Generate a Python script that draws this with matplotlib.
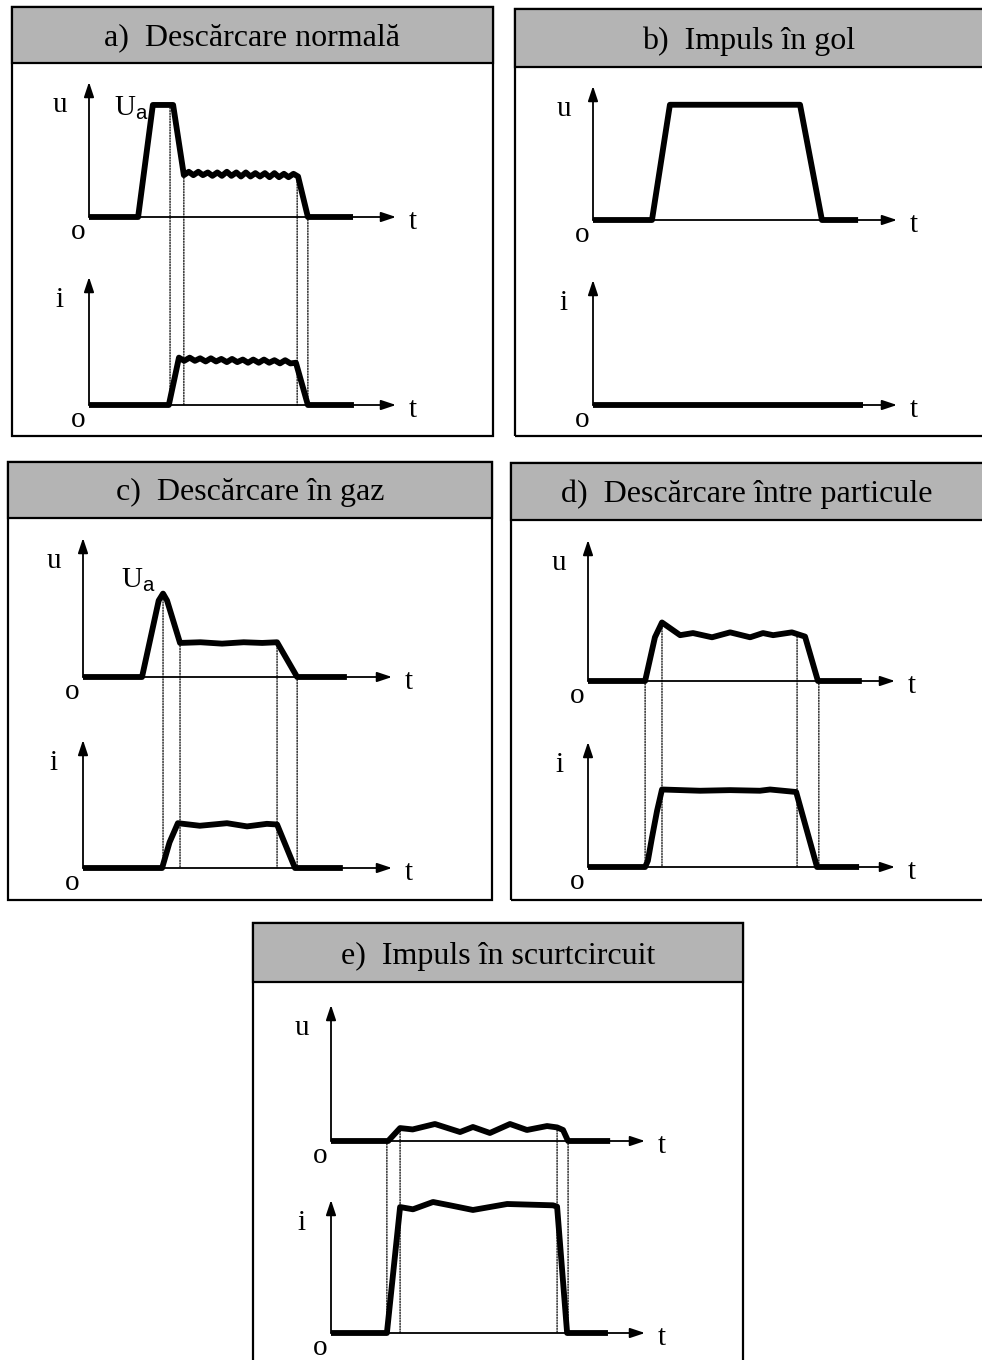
import numpy as np
import matplotlib
matplotlib.use("Agg")
import matplotlib.pyplot as plt
from matplotlib.patches import Rectangle, ConnectionPatch

plt.rcParams['font.family'] = ['Liberation Serif', 'DejaVu Serif']
plt.rcParams['mathtext.fontset'] = 'custom'
plt.rcParams['mathtext.rm'] = 'Liberation Sans'

# panel titles
titles = ["a)  Descărcare normală", "b)  Impuls în gol", "c)  Descărcare în gaz",
          "d)  Descărcare între particule", "e)  Impuls în scurtcircuit"]

# waveforms: time (0..10 along t axis), amplitude (0..1 of axis height)
a_u_t = [0, 1.6, 2.08, 2.74, 3.09,
         3.25, 3.40, 3.56, 3.71, 3.87, 4.02, 4.18, 4.33, 4.49, 4.64, 4.80, 4.95,
         5.11, 5.26, 5.42, 5.57, 5.73, 5.88, 6.04, 6.19, 6.35, 6.50, 6.66, 6.81,
         7.13, 8.6]
a_u_v = [0, 0, 0.83, 0.83, 0.31,
         0.335, 0.31, 0.335, 0.31, 0.33, 0.305, 0.33, 0.305, 0.335, 0.305, 0.33, 0.30,
         0.33, 0.30, 0.325, 0.30, 0.325, 0.295, 0.325, 0.295, 0.32, 0.295, 0.32, 0.30,
         0, 0]
a_i_t = [0, 2.6, 2.93,
         3.10, 3.28, 3.45, 3.62, 3.80, 3.97, 4.14, 4.31, 4.49, 4.66, 4.83, 5.01,
         5.18, 5.35, 5.53, 5.70, 5.87, 6.04, 6.22, 6.39, 6.56, 6.74,
         7.13, 8.63]
a_i_v = [0, 0, 0.37,
         0.345, 0.37, 0.345, 0.365, 0.34, 0.365, 0.34, 0.36, 0.335, 0.36, 0.335, 0.355,
         0.33, 0.355, 0.33, 0.355, 0.33, 0.35, 0.325, 0.35, 0.325, 0.33,
         0, 0]
a_marks = [2.64, 3.09, 6.78, 7.13]

b_u_t = [0, 1.94, 2.53, 6.81, 7.53, 8.72]
b_u_v = [0, 0, 0.86, 0.86, 0, 0]
b_i_t = [0, 8.88]
b_i_v = [0, 0]
b_marks = []

c_u_t = [0, 1.91, 2.45, 2.59, 2.72, 3.14, 3.8, 4.5, 5.2, 5.8, 6.28, 6.93, 8.54]
c_u_v = [0, 0, 0.55, 0.60, 0.55, 0.245, 0.25, 0.24, 0.25, 0.245, 0.25, 0, 0]
c_i_t = [0, 2.56, 2.8, 3.07, 3.78, 4.66, 5.31, 5.95, 6.28, 6.86, 8.41]
c_i_v = [0, 0, 0.2, 0.35, 0.33, 0.35, 0.325, 0.345, 0.34, 0, 0]
c_marks = [2.59, 3.14, 6.28, 6.93]

d_u_t = [0, 1.86, 2.18, 2.41, 3.0, 3.42, 4.04, 4.63, 5.28, 5.7, 6.03, 6.64, 7.07, 7.49, 8.92]
d_u_v = [0, 0, 0.31, 0.415, 0.325, 0.34, 0.31, 0.345, 0.31, 0.34, 0.325, 0.345, 0.315, 0, 0]
d_i_t = [0, 1.86, 1.95, 2.08, 2.25, 2.41, 3.65, 4.63, 5.6, 5.93, 6.78, 7.46, 8.83]
d_i_v = [0, 0, 0.05, 0.23, 0.45, 0.62, 0.61, 0.615, 0.61, 0.62, 0.6, 0, 0]
d_marks = [1.86, 2.41, 6.81, 7.52]

e_u_t = [0, 1.82, 2.2, 2.6, 3.31, 4.11, 4.52, 5.06, 5.7, 6.24, 6.88, 7.2, 7.39, 7.55, 8.89]
e_u_v = [0, 0, 0.095, 0.085, 0.125, 0.066, 0.103, 0.059, 0.125, 0.081, 0.11, 0.1, 0.081, 0, 0]
e_i_t = [0, 1.78, 2.2, 2.61, 3.25, 3.79, 4.52, 5.61, 7.07, 7.2, 7.52, 8.82]
e_i_v = [0, 0, 0.947, 0.93, 0.985, 0.96, 0.925, 0.97, 0.96, 0.95, 0, 0]
e_marks = [1.78, 2.2, 7.2, 7.55]

waves = [(a_u_t, a_u_v, a_i_t, a_i_v, a_marks),
         (b_u_t, b_u_v, b_i_t, b_i_v, b_marks),
         (c_u_t, c_u_v, c_i_t, c_i_v, c_marks),
         (d_u_t, d_u_v, d_i_t, d_i_v, d_marks),
         (e_u_t, e_u_v, e_i_t, e_i_v, e_marks)]

# layout in pixels: box (l, t, r, b), header bottom, axis origin x, arrow tip x,
# u axis (origin y, tip y), i axis (origin y, tip y)
layout = [
    dict(box=(12, 7, 493, 436), hdr=63, ox=89, tx=396, u=(217, 82), i=(405, 277)),
    dict(box=(515, 9, 992, 436), hdr=67, ox=593, tx=897, u=(220, 86), i=(405, 280)),
    dict(box=(8, 462, 492, 900), hdr=518, ox=83, tx=392, u=(677, 538), i=(868, 740)),
    dict(box=(511, 463, 992, 900), hdr=520, ox=588, tx=895, u=(681, 540), i=(867, 742)),
    dict(box=(253, 923, 743, 1375), hdr=982, ox=331, tx=645, u=(1141, 1005), i=(1333, 1200)),
]
# U_a label anchor (time, value, offset px) for panels a and c
ua_labels = {0: (2.08, 0.83, (-4, -3)), 2: (2.59, 0.60, (-7, 13))}

W, H = 982, 1360
fig = plt.figure(figsize=(W / 100, H / 100), dpi=100)


def fx(x):
    return x / W


def fy(y):
    return 1 - y / H


def make_axes(ox, tx, oy, ty, name):
    ax = fig.add_axes([fx(ox), fy(oy), (tx - ox) / W, (oy - ty) / H])
    ax.set_xlim(0, 10)
    ax.set_ylim(0, 1)
    ax.axis('off')
    ax.patch.set_visible(False)
    arrow = dict(arrowstyle='-|>,head_length=0.9,head_width=0.3', lw=1.3,
                 color='k', shrinkA=0, shrinkB=0)
    ax.annotate('', xy=(1, 0), xytext=(0, 0), xycoords='axes fraction', arrowprops=arrow)
    ax.annotate('', xy=(0, 1), xytext=(0, 0), xycoords='axes fraction', arrowprops=arrow)
    ax.annotate(name, xy=(0, 1), xycoords='axes fraction', xytext=(-29, -23),
                textcoords='offset pixels', ha='center', va='center', fontsize=21)
    ax.annotate('o', xy=(0, 0), xycoords='axes fraction', xytext=(-11, -15),
                textcoords='offset pixels', ha='center', va='center', fontsize=21)
    ax.annotate('t', xy=(1, 0), xycoords='axes fraction', xytext=(17, -5),
                textcoords='offset pixels', ha='center', va='center', fontsize=21)
    return ax


for k, (lay, title, wv) in enumerate(zip(layout, titles, waves)):
    l, t, r, b = lay['box']
    fig.patches.append(Rectangle((fx(l), fy(b)), (r - l) / W, (b - t) / H,
                                 transform=fig.transFigure, fill=False, ec='k',
                                 lw=1.6, zorder=-2))
    fig.patches.append(Rectangle((fx(l), fy(lay['hdr'])), (r - l) / W, (lay['hdr'] - t) / H,
                                 transform=fig.transFigure, fc='#b4b4b4', ec='k',
                                 lw=1.6, zorder=-2))
    fig.text(fx((l + min(r, 982)) / 2 if k in (1, 3) else (l + r) / 2), fy(lay['hdr'] - 18),
             title, ha='center', va='baseline', fontsize=23)

    ut, uv, it, iv, marks = wv
    ax_u = make_axes(lay['ox'], lay['tx'], lay['u'][0], lay['u'][1], 'u')
    ax_i = make_axes(lay['ox'], lay['tx'], lay['i'][0], lay['i'][1], 'i')
    for ax, tt, vv in ((ax_u, ut, uv), (ax_i, it, iv)):
        ax.plot(tt, vv, color='k', lw=4.2, solid_joinstyle='round',
                solid_capstyle='butt', clip_on=False, zorder=3)

    for m in marks:
        con = ConnectionPatch(xyA=(m, np.interp(m, ut, uv)), coordsA=ax_u.transData,
                              xyB=(m, 0), coordsB=ax_i.transData,
                              linestyle=(0, (1, 1.2)), lw=0.9, color='k', zorder=-1)
        fig.add_artist(con)

    if k in ua_labels:
        tu, vu, off = ua_labels[k]
        ax_u.annotate(r'U$_{\mathrm{a}}$', xy=(tu, vu), xytext=off,
                      textcoords='offset pixels', ha='right', va='center', fontsize=21)

fig.savefig('out.png', dpi=100)
